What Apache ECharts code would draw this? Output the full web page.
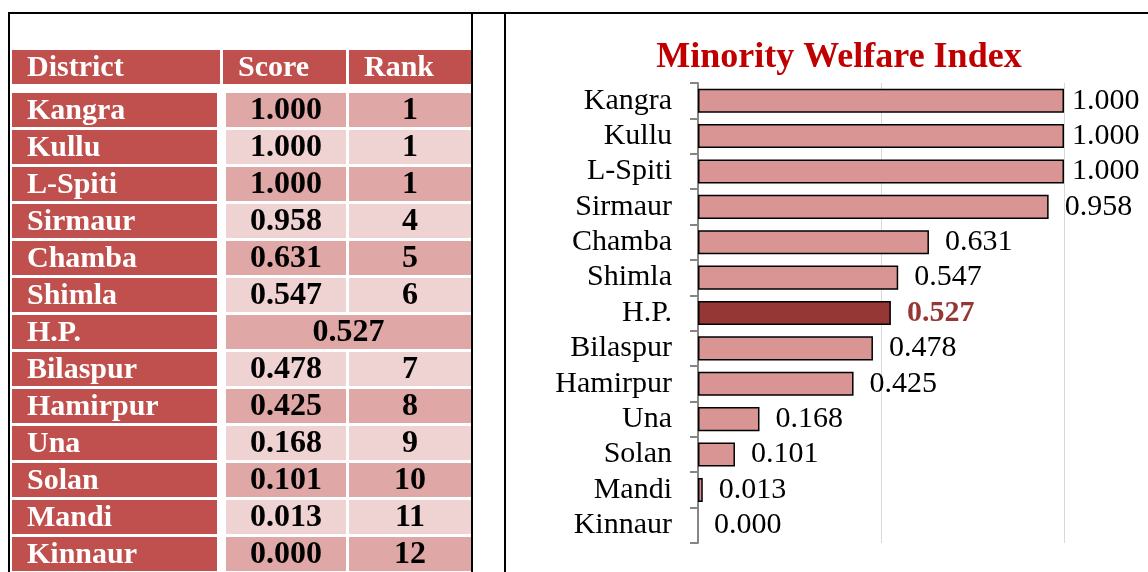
<!DOCTYPE html>
<html>
<head>
<meta charset="utf-8">
<title>Minority Welfare Index</title>
<script src="https://cdn.jsdelivr.net/npm/echarts@6/dist/echarts.min.js"></script>
<style>
  html, body { margin: 0; padding: 0; background: #fff; }
  #main { width: 1148px; height: 572px; }
</style>
</head>
<body>
<div id="main"></div>
<script>
// data, top to bottom as in the table and the chart
var districts = ["Kangra", "Kullu", "L-Spiti", "Sirmaur", "Chamba", "Shimla", "H.P.", "Bilaspur", "Hamirpur", "Una", "Solan", "Mandi", "Kinnaur"];
var scores = [1.000, 1.000, 1.000, 0.958, 0.631, 0.547, 0.527, 0.478, 0.425, 0.168, 0.101, 0.013, 0.000];
var ranks = [1, 1, 1, 4, 5, 6, null, 7, 8, 9, 10, 11, 12];
var headers = ["District", "Score", "Rank"];
var stateRow = "H.P.";

var serif = "'Liberation Serif', 'DejaVu Serif', serif";
var RED = "#C0504D";
var BAND_DARK = "#DFA7A6";
var BAND_LIGHT = "#EFD3D2";

// ---- left table, drawn as graphic elements ----
var graphics = [];

function cell(x, y, w, h, fill, label, align, color, size) {
  graphics.push({
    type: "rect",
    silent: true,
    shape: { x: x, y: y, width: w, height: h },
    style: { fill: fill }
  });
  if (label === "") return;
  graphics.push({
    type: "text",
    silent: true,
    x: align === "left" ? x + 15 : x + w / 2,
    y: y + h / 2 + 1,
    style: {
      text: label,
      fill: color,
      font: "bold " + (size || 30) + "px " + serif,
      textAlign: align,
      align: align,
      textVerticalAlign: "middle",
      verticalAlign: "middle"
    }
  });
}

// header row
cell(12, 50, 208, 34, RED, headers[0], "left", "#fff");
cell(223, 50, 123, 34, RED, headers[1], "left", "#fff");
cell(349, 50, 122, 34, RED, headers[2], "left", "#fff");

// body rows
districts.forEach(function (name, i) {
  var y = 93 + i * 37;
  var band = i % 2 === 0 ? BAND_DARK : BAND_LIGHT;
  cell(12, y, 205, 34, RED, name, "left", "#fff");
  if (ranks[i] === null) {
    cell(226, y, 245, 34, band, scores[i].toFixed(3), "center", "#000", 32);
  } else {
    cell(226, y, 120, 34, band, scores[i].toFixed(3), "center", "#000", 32);
    cell(349, y, 122, 34, band, String(ranks[i]), "center", "#000", 32);
  }
});

// frame lines
[[8, 13, 1148, 13], [9, 13, 9, 572], [472, 13, 472, 572], [505, 13, 505, 572]].forEach(function (p) {
  graphics.push({
    type: "line",
    silent: true,
    shape: { x1: p[0], y1: p[1], x2: p[2], y2: p[3] },
    style: { stroke: "#000", lineWidth: 2 }
  });
});

// ---- right bar chart ----
var barData = scores.map(function (v, i) {
  var item = { value: v };
  if (districts[i] === stateRow) {
    item.itemStyle = { color: "#953735" };
    item.label = { color: "#953735", fontWeight: "bold" };
  }
  if (v === 0) item.itemStyle = { borderWidth: 0 };
  if (v >= 1) item.label = { distance: 8 };
  return item;
});

var option = {
  animation: false,
  title: {
    text: "Minority Welfare Index",
    left: 834,
    top: 35,
    textAlign: "center",
    textStyle: {
      fontFamily: serif,
      fontWeight: "bold",
      fontSize: 36,
      color: "#C00000"
    }
  },
  grid: { left: 698, right: 84, top: 83, bottom: 29, containLabel: false },
  xAxis: {
    type: "value",
    min: 0,
    max: 1,
    interval: 0.5,
    axisLabel: { show: false },
    axisLine: { show: false },
    axisTick: { show: false },
    splitLine: { show: true, lineStyle: { color: "#D9D9D9", width: 1 } }
  },
  yAxis: {
    type: "category",
    inverse: true,
    data: districts,
    axisLine: { show: true, lineStyle: { color: "#868686", width: 2 } },
    axisTick: { show: true, interval: 0, length: 8, lineStyle: { color: "#868686", width: 2 } },
    axisLabel: { interval: 0, color: "#000", fontFamily: serif, fontSize: 30, margin: 26 }
  },
  series: [
    {
      type: "bar",
      barCategoryGap: "32%",
      data: barData,
      itemStyle: { color: "#D99594", borderColor: "#000", borderWidth: 1.5 },
      label: {
        show: true,
        position: "right",
        distance: 16,
        color: "#000",
        fontFamily: serif,
        fontSize: 30,
        formatter: function (p) {
          return p.value.toFixed(3);
        }
      }
    }
  ],
  graphic: graphics
};

var chart = echarts.init(document.getElementById("main"));
chart.setOption(option);
</script>
</body>
</html>
